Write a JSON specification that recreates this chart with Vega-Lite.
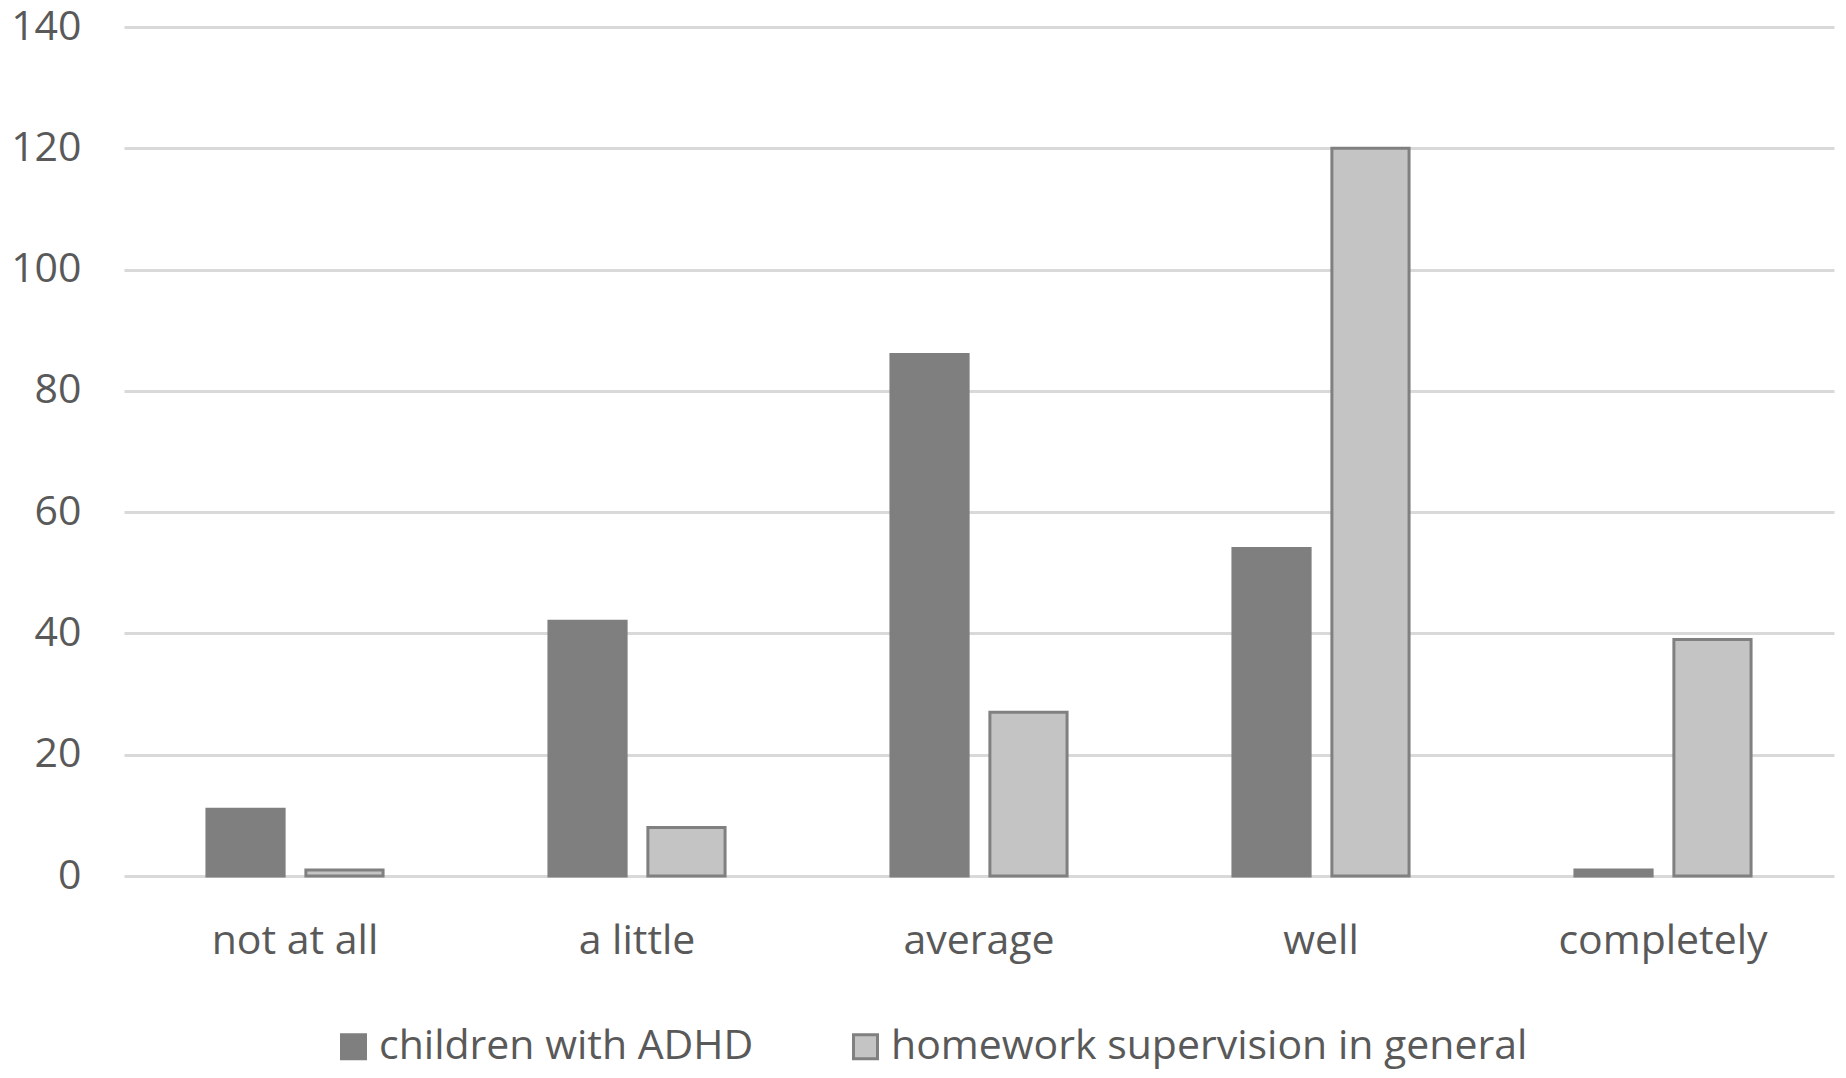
{
  "$schema": "https://vega.github.io/schema/vega-lite/v6.json",
  "autosize": {"type": "none"},
  "padding": {"left": 124, "top": 27, "right": 12, "bottom": 202},
  "width": 1710,
  "height": 849,
  "background": "white",
  "config": {
    "view": {"stroke": null},
    "font": "Open Sans",
    "axis": {"labelFont": "Open Sans", "labelColor": "#595959", "labelFontSize": 41, "labelLimit": 0},
    "legend": {"labelFont": "Open Sans", "labelColor": "#595959", "labelFontSize": 41, "labelLimit": 0}
  },
  "data": {
    "values": [
      {"category": "not at all", "series": "children with ADHD", "value": 11},
      {"category": "not at all", "series": "homework supervision in general", "value": 1},
      {"category": "a little", "series": "children with ADHD", "value": 42},
      {"category": "a little", "series": "homework supervision in general", "value": 8},
      {"category": "average", "series": "children with ADHD", "value": 86},
      {"category": "average", "series": "homework supervision in general", "value": 27},
      {"category": "well", "series": "children with ADHD", "value": 54},
      {"category": "well", "series": "homework supervision in general", "value": 120},
      {"category": "completely", "series": "children with ADHD", "value": 1},
      {"category": "completely", "series": "homework supervision in general", "value": 39}
    ]
  },
  "mark": {"type": "bar", "strokeWidth": 3},
  "encoding": {
    "x": {
      "field": "category",
      "type": "nominal",
      "sort": ["not at all", "a little", "average", "well", "completely"],
      "scale": {"paddingInner": 0.485, "paddingOuter": 0.2425},
      "axis": {"title": null, "labelAngle": 0, "ticks": false, "domain": false, "labelPadding": 45, "grid": false}
    },
    "xOffset": {
      "field": "series",
      "type": "nominal",
      "scale": {"paddingInner": 0.22}
    },
    "y": {
      "field": "value",
      "type": "quantitative",
      "scale": {"domain": [0, 140], "nice": false},
      "axis": {
        "title": null,
        "values": [0, 20, 40, 60, 80, 100, 120, 140],
        "ticks": false,
        "domain": false,
        "labelPadding": 43,
        "gridColor": "#d9d9d9",
        "gridWidth": 3
      }
    },
    "fill": {
      "field": "series",
      "type": "nominal",
      "scale": {"range": ["#7f7f7f", "#c4c4c4"]},
      "legend": {
        "title": null,
        "orient": "none",
        "direction": "horizontal",
        "legendX": 209,
        "legendY": 999,
        "symbolType": "square",
        "symbolSize": 576,
        "symbolStrokeWidth": 3,
        "labelOffset": 5,
        "columnPadding": 91
      }
    },
    "stroke": {
      "field": "series",
      "type": "nominal",
      "scale": {"range": ["#7f7f7f", "#808080"]}
    }
  }
}
